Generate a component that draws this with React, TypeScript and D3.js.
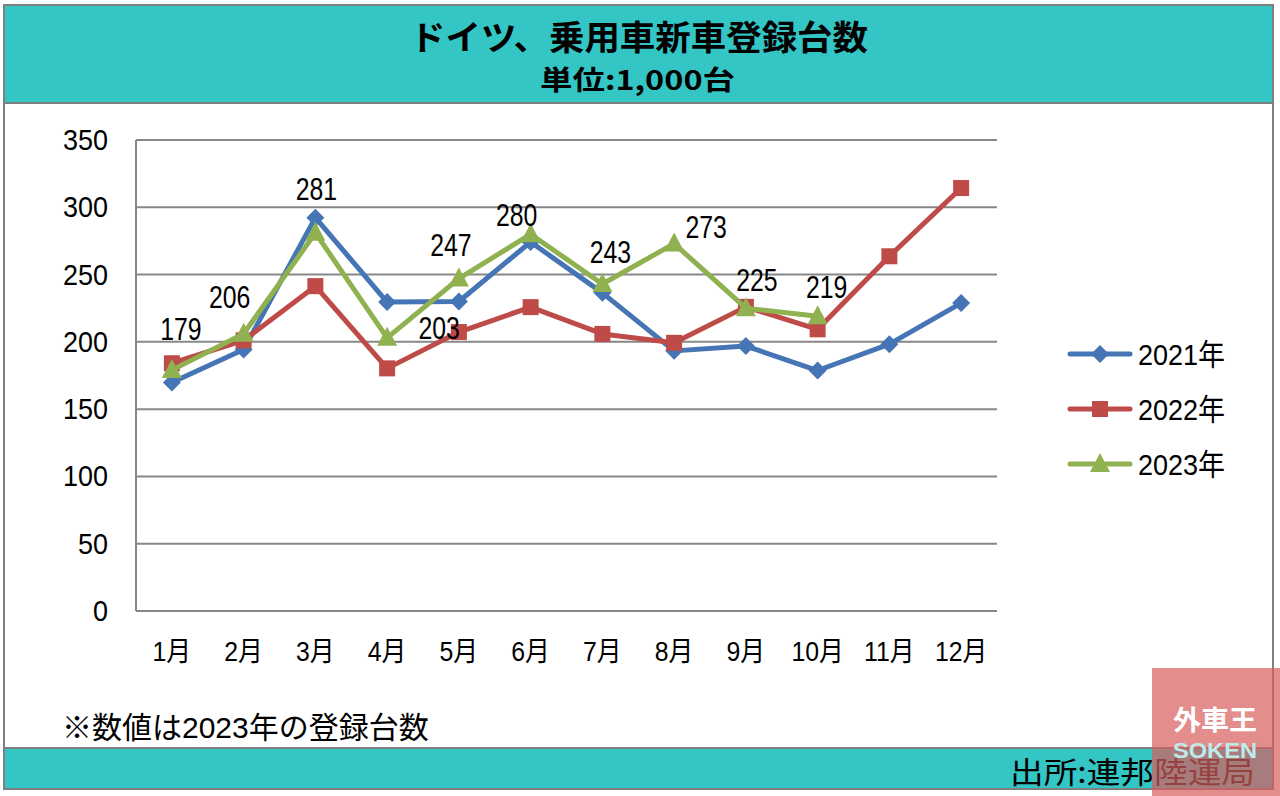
import React from "react";
import * as d3 from "d3";

const months = ["1月", "2月", "3月", "4月", "5月", "6月", "7月", "8月", "9月", "10月", "11月", "12月"];
const values2021 = [169.8, 194.3, 292.3, 229.6, 230.0, 274.2, 236.4, 193.3, 196.9, 178.7, 198.3, 228.8];
const values2022 = [184.1, 201.1, 241.4, 180.3, 207.3, 225.8, 205.9, 199.3, 226.0, 209.3, 263.6, 314.3];
const values2023 = [179, 206, 281, 203, 247, 280, 243, 273, 225, 219];
const seriesNames = ["2021年", "2022年", "2023年"];
const yTicks = [0, 50, 100, 150, 200, 250, 300, 350];
// label offsets (dx, dy) relative to point for 2023 values
const labelOffsets: [number, number][] = [
  [9, -30], [-14, -26], [1, -33], [52, 1], [-8, -23], [-14, -8], [8, -21], [32, -6], [11, -17], [9, -18],
];

const W = 1280;
const H = 796;
const FONT = "'Liberation Sans', Arial, 'Noto Sans CJK JP', sans-serif";
const CJK = "'Noto Sans CJK JP', sans-serif";
const TEAL = "#34C5C5";
const BORDER = "#7f7f7f";
const colors = ["#4575B4", "#BE4B48", "#8FB150"];

function Marker({ kind, x, y, color }: { kind: number; x: number; y: number; color: string }) {
  if (kind === 0) {
    const s = 9;
    return <path d={`M${x},${y - s}L${x + s},${y}L${x},${y + s}L${x - s},${y}Z`} fill={color} />;
  }
  if (kind === 1) {
    const s = 8;
    return <rect x={x - s} y={y - s} width={2 * s} height={2 * s} fill={color} />;
  }
  const s = 10;
  return <path d={`M${x},${y - s - 1}L${x + s},${y + s - 2}L${x - s},${y + s - 2}Z`} fill={color} />;
}

function NText({
  x,
  y,
  sx,
  size,
  anchor,
  children,
}: {
  x: number;
  y: number;
  sx: number;
  size: number;
  anchor?: "start" | "middle" | "end";
  children: React.ReactNode;
}) {
  return (
    <g transform={`translate(${x},${y}) scale(${sx},1)`}>
      <text x={0} y={0} fontSize={size} textAnchor={anchor || "start"}>
        {children}
      </text>
    </g>
  );
}

export default function App() {
  const left = 136;
  const right = 997;
  const top = 140;
  const bottom = 611;
  const x = d3.scaleBand<string>().domain(months).range([left, right]);
  const y = d3.scaleLinear().domain([0, 350]).range([bottom, top]);
  const cx = (i: number) => (x(months[i]) as number) + x.bandwidth() / 2;
  const line = d3
    .line<number>()
    .x((_, i) => cx(i))
    .y((d) => y(d));
  const allSeries = [values2021, values2022, values2023];

  return (
    <svg width={W} height={H} style={{ position: "absolute", left: 0, top: 0 }} fontFamily={FONT}>
      <rect x={0} y={0} width={W} height={H} fill="#fff" />
      {/* outer frame */}
      <rect x={4} y={5} width={1269} height={784} fill="#fff" stroke={BORDER} strokeWidth={2} />
      {/* title band */}
      <rect x={4} y={5} width={1269} height={98} fill={TEAL} stroke={BORDER} strokeWidth={2} />
      <text x={410} y={50} fontSize={34} fontWeight="bold" fontFamily={CJK} textLength={458} lengthAdjust="spacingAndGlyphs">
        ドイツ、乗用車新車登録台数
      </text>
      <text x={540} y={90} fontSize={27} fontWeight="bold" fontFamily={CJK} textLength={195} lengthAdjust="spacingAndGlyphs">
        単位:1,000台
      </text>
      {/* bottom band */}
      <rect x={4} y={748} width={1269} height={41} fill={TEAL} stroke={BORDER} strokeWidth={2} />
      <text x={1010} y={783} fontSize={30} fontFamily={CJK} textLength={245} lengthAdjust="spacingAndGlyphs">
        出所:連邦陸運局
      </text>

      {/* gridlines */}
      {yTicks.map((t) => (
        <g key={t}>
          {t > 0 && <line x1={left} x2={right} y1={y(t)} y2={y(t)} stroke="#878787" strokeWidth={2} />}
          <NText x={108} y={y(t) + 10} sx={0.93} size={29} anchor="end">
            {t}
          </NText>
        </g>
      ))}
      <line x1={left} x2={left} y1={top} y2={bottom} stroke="#878787" strokeWidth={2} />
      <line x1={left} x2={right} y1={bottom} y2={bottom} stroke="#878787" strokeWidth={2} />
      {months.map((m, i) => (
        <NText key={m} x={cx(i)} y={661} sx={0.92} size={27} anchor="middle">
          {m}
        </NText>
      ))}

      {/* series */}
      {allSeries.map((vals, si) => (
        <g key={si}>
          <path d={line(vals) || ""} fill="none" stroke={colors[si]} strokeWidth={5} strokeLinejoin="round" />
          {vals.map((v, i) => (
            <Marker key={i} kind={si} x={cx(i)} y={y(v)} color={colors[si]} />
          ))}
        </g>
      ))}

      {/* data labels for 2023 */}
      {values2023.map((v, i) => (
        <NText key={i} x={cx(i) + labelOffsets[i][0]} y={y(v) + labelOffsets[i][1]} sx={0.8} size={31} anchor="middle">
          {v}
        </NText>
      ))}

      {/* legend */}
      {seriesNames.map((name, si) => {
        const ly = 354 + si * 55;
        return (
          <g key={name}>
            <line x1={1070} x2={1130} y1={ly} y2={ly} stroke={colors[si]} strokeWidth={5} strokeLinecap="round" />
            <Marker kind={si} x={1100} y={ly} color={colors[si]} />
            <NText x={1138} y={ly + 11} sx={0.9} size={30}>
              {name}
            </NText>
          </g>
        );
      })}

      <text x={62} y={738} fontSize={30}>
        ※数値は2023年の登録台数
      </text>

      {/* watermark */}
      <rect x={1152} y={668} width={128} height={128} fill="#D95D5D" opacity={0.7} />
      <text x={1173} y={730} fontSize={27} fontWeight="bold" fill="#fff" fontFamily={CJK} textLength={84} lengthAdjust="spacingAndGlyphs">
        外車王
      </text>
      <text x={1173} y={758} fontSize={22} fontWeight="bold" fill="#BDEBEB" fontFamily="'Liberation Sans', sans-serif" textLength={84} lengthAdjust="spacingAndGlyphs">
        SOKEN
      </text>
    </svg>
  );
}
